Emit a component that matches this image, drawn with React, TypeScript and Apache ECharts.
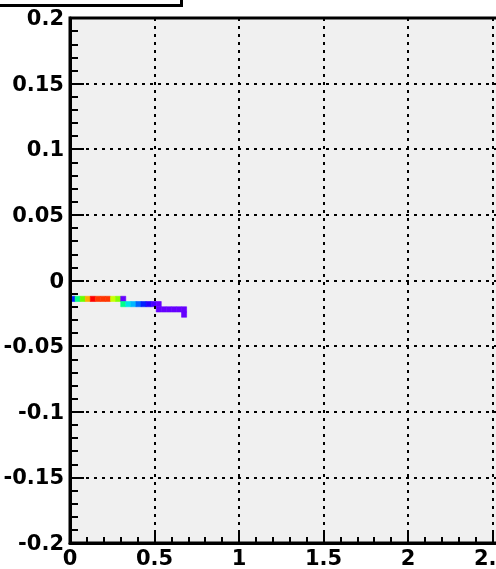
import React, { useEffect, useRef } from "react";
import * as echarts from "echarts";

// Histogram binning (2D histogram, colz-style)
const X_BIN = 0.03;
const Y_BIN = 0.004;

// Axis ranges / ticks
const X_MIN = 0;
const X_MAX = 3;
const X_STEP = 0.5;
const Y_MIN = -0.2;
const Y_MAX = 0.2;
const Y_STEP = 0.05;

// Filled rows: lower y edge of the row, index of first x bin, and bin contents
const rowYEdges = [-0.016, -0.02, -0.024, -0.028];
const rowFirstBin = [0, 10, 17, 22];
const row0Counts = [19, 64, 96, 127, 150, 143, 143, 143, 109, 100, 1];
const row1Counts = [64, 48, 39, 28, 19, 10, 5, 1];
const row2Counts = [1, 1, 1, 1, 1, 1];
const row3Counts = [1];
const rowCounts = [row0Counts, row1Counts, row2Counts, row3Counts];

const Z_MIN = 1;
const Z_MAX = 150;

// ROOT-like "pretty" rainbow palette (violet -> red)
const palette = [
  "#6600ff", "#0000ff", "#0066ff", "#00ccff", "#00ffcc", "#00ff66",
  "#00ff00", "#66ff00", "#ccff00", "#ffcc00", "#ff6600", "#ff0000",
];

const cells: number[][] = [];
rowCounts.forEach((counts, r) => {
  counts.forEach((z, i) => {
    cells.push([(rowFirstBin[r] + i) * X_BIN, rowYEdges[r], z]);
  });
});

const fmt = (v: number) => String(+Number(v).toFixed(3));

export default function App() {
  const ref = useRef<HTMLDivElement>(null);
  useEffect(() => {
    if (!ref.current) return;
    const chart = echarts.init(ref.current, null, { renderer: "svg" });
    const labelStyle = {
      fontFamily: "DejaVu Sans",
      fontWeight: "bold" as const,
      fontSize: 21,
      color: "#000",
    };
    const gridLine = {
      show: true,
      lineStyle: { color: "#000", width: 2, type: [3, 5] as any },
    };
    chart.setOption({
      animation: false,
      grid: {
        left: 70,
        top: 18,
        right: 23,
        bottom: 26,
        show: true,
        backgroundColor: "#f0f0f0",
        borderColor: "#000",
        borderWidth: 3,
        outerBoundsMode: "none",
        containLabel: false,
        z: 0,
      },
      visualMap: {
        type: "continuous",
        show: false,
        min: Z_MIN,
        max: Z_MAX,
        dimension: 2,
        seriesIndex: 0,
        inRange: { color: palette },
      },
      xAxis: {
        type: "value",
        min: X_MIN,
        max: X_MAX,
        interval: X_STEP,
        z: 3,
        axisLine: { show: true, onZero: false, lineStyle: { color: "#000", width: 3 } },
        axisTick: { show: true, inside: true, length: 13, lineStyle: { color: "#000", width: 2 } },
        minorTick: { show: true, splitNumber: 5, length: 6, lineStyle: { color: "#000", width: 2 } },
        splitLine: gridLine,
        axisLabel: { ...labelStyle, margin: 4, formatter: fmt },
      },
      yAxis: {
        type: "value",
        min: Y_MIN,
        max: Y_MAX,
        interval: Y_STEP,
        z: 3,
        axisLine: { show: true, onZero: false, lineStyle: { color: "#000", width: 3 } },
        axisTick: { show: true, inside: true, length: 14, lineStyle: { color: "#000", width: 2 } },
        minorTick: { show: true, splitNumber: 5, length: 8, lineStyle: { color: "#000", width: 2 } },
        splitLine: gridLine,
        axisLabel: { ...labelStyle, margin: 6, padding: [4, 0, 0, 0], formatter: fmt },
      },
      series: [
        {
          type: "custom",
          z: 1,
          dimensions: ["x", "y", "z"],
          encode: { x: 0, y: 1 },
          data: cells,
          renderItem: (params: any, api: any) => {
            const x0 = api.value(0);
            const y0 = api.value(1);
            const p1 = api.coord([x0, y0 + Y_BIN]);
            const p2 = api.coord([x0 + X_BIN, y0]);
            const c = api.visual("color");
            return {
              type: "rect",
              shape: { x: p1[0], y: p1[1], width: p2[0] - p1[0], height: p2[1] - p1[1] },
              style: { fill: c, stroke: c, lineWidth: 0.6 },
            };
          },
        },
      ],
      graphic: [
        {
          type: "rect",
          z: 100,
          shape: { x: -10, y: -10, width: 191.5, height: 15.5 },
          style: { fill: "#ffffff", stroke: "#000", lineWidth: 3 },
        },
      ],
    });
    return () => chart.dispose();
  }, []);
  return (
    <div
      style={{ position: "fixed", left: 0, top: 0, width: 496, height: 569, overflow: "hidden" }}
    >
      <div ref={ref} style={{ width: 600, height: 569 }} />
    </div>
  );
}
